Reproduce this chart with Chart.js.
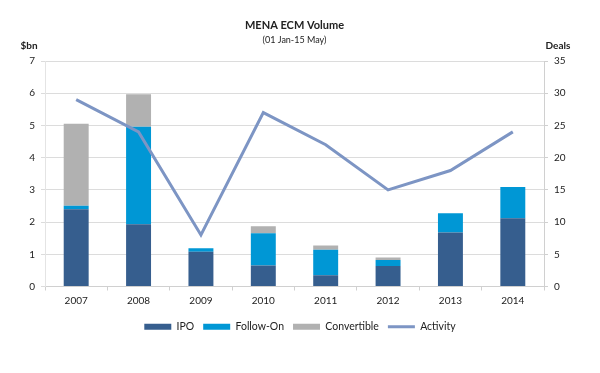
<!DOCTYPE html>
<html>
<head>
<meta charset="utf-8">
<script src="https://cdn.jsdelivr.net/npm/chart.js@4.4.1/dist/chart.umd.min.js"></script>
<style>
html,body{margin:0;padding:0;background:#fff;}
#wrap{width:600px;height:373px;position:relative;}
</style>
</head>
<body>
<div id="wrap"><canvas id="c" width="600" height="373"></canvas></div>
<script>
const years = ["2007","2008","2009","2010","2011","2012","2013","2014"];
const ipo = [2.40, 1.93, 1.08, 0.65, 0.35, 0.64, 1.68, 2.12];
const followOn = [0.11, 3.03, 0.11, 1.00, 0.79, 0.18, 0.59, 0.97];
const convertible = [2.54, 1.01, 0, 0.22, 0.13, 0.08, 0, 0];
const activity = [29, 24, 8, 27, 22, 15, 18, 24];
const leftTicks = [0,1,2,3,4,5,6,7];
const rightTicks = [0,5,10,15,20,25,30,35];

const FONT = "Lato, 'Liberation Sans', sans-serif";
const TXT = "#222222";

const extraText = {
  id: 'extraText',
  afterDraw(chart) {
    const ctx = chart.ctx;
    const ca = chart.chartArea;
    ctx.save();
    ctx.fillStyle = TXT;
    ctx.textAlign = 'center';
    ctx.textBaseline = 'middle';
    const cx = (ca.left + ca.right) / 2;
    ctx.font = "bold 11px " + FONT;
    ctx.fillText("MENA ECM Volume", cx, ca.top - 36);
    ctx.font = "9px " + FONT;
    ctx.fillText("(01 Jan-15 May)", cx, ca.top - 21);
    ctx.font = "bold 10px " + FONT;
    ctx.fillText("$bn", ca.left - 16, ca.top - 15);
    ctx.fillText("Deals", ca.right + 14, ca.top - 15);
    ctx.restore();
  }
};

new Chart(document.getElementById('c'), {
  type: 'bar',
  data: {
    labels: years,
    datasets: [
      { label: 'IPO', data: ipo, backgroundColor: '#365E8E', pointStyle: 'rect', order: 1, yAxisID: 'y', borderWidth: 0 },
      { label: 'Follow-On', data: followOn, backgroundColor: '#0097D5', pointStyle: 'rect', order: 1, yAxisID: 'y', borderWidth: 0 },
      { label: 'Convertible', data: convertible, backgroundColor: '#B1B1B1', pointStyle: 'rect', order: 1, yAxisID: 'y', borderWidth: 0 },
      { label: 'Activity', type: 'line', data: activity, borderColor: '#7D95C4', backgroundColor: '#7D95C4', borderWidth: 3, pointRadius: 0, pointStyle: 'line', tension: 0, order: 0, yAxisID: 'y1' }
    ]
  },
  options: {
    responsive: false,
    animation: false,
    devicePixelRatio: 1,
    layout: { padding: { top: 61, left: 0, right: 0, bottom: 31 } },
    datasets: { bar: { barPercentage: 0.4, categoryPercentage: 1.0 } },
    plugins: {
      title: { display: false },
      tooltip: { enabled: false },
      legend: {
        position: 'bottom',
        labels: {
          sort: (a, b) => a.datasetIndex - b.datasetIndex,
          usePointStyle: true,
          pointStyleWidth: 27,
          boxHeight: 6,
          padding: 9,
          color: TXT,
          font: { family: FONT, size: 10.5 }
        }
      }
    },
    scales: {
      x: {
        stacked: true,
        grid: { display: true, drawOnChartArea: false, offset: true, color: '#D0D0D0', tickLength: 4 },
        border: { color: '#D0D0D0' },
        ticks: { color: TXT, font: { family: FONT, size: 10 }, padding: 4 },
        afterFit(s) { s.height = 26; }
      },
      y: {
        stacked: true,
        min: 0, max: 7,
        afterBuildTicks(s) { s.ticks = leftTicks.map(v => ({ value: v })); },
        grid: { color: '#DCDCDC', tickLength: 4 },
        border: { color: '#E4E4E4' },
        ticks: { color: TXT, font: { family: FONT, size: 10 }, padding: 6 },
        afterFit(s) { s.width = 45; }
      },
      y1: {
        position: 'right',
        min: 0, max: 35,
        afterBuildTicks(s) { s.ticks = rightTicks.map(v => ({ value: v })); },
        grid: { drawOnChartArea: false, color: '#D0D0D0', tickLength: 4 },
        border: { color: '#D0D0D0' },
        ticks: { color: TXT, font: { family: FONT, size: 10 }, padding: 6 },
        afterFit(s) { s.width = 56; }
      }
    }
  },
  plugins: [extraText]
});
</script>
</body>
</html>
